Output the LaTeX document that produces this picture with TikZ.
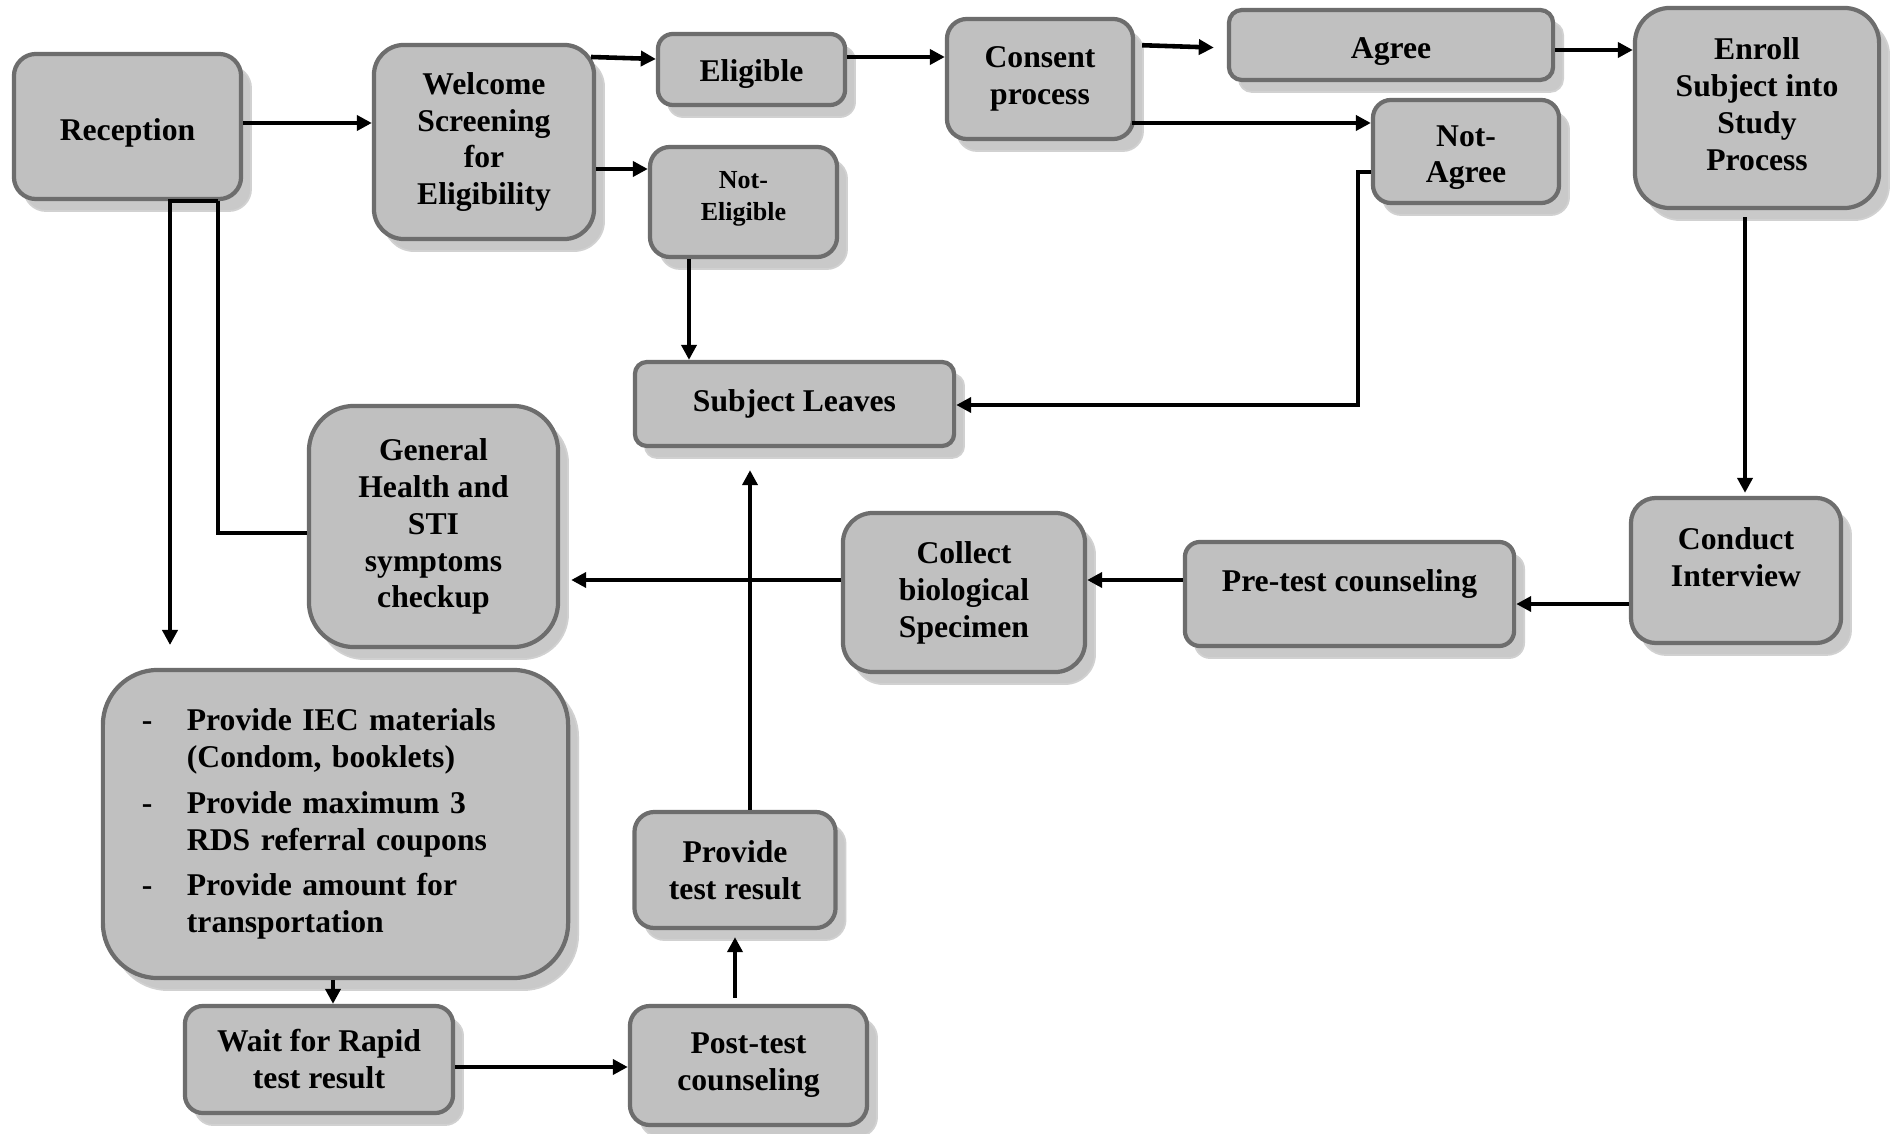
\documentclass[tikz,border=0pt]{standalone}
\usepackage{fontspec}
\setmainfont{Liberation Serif}
\usetikzlibrary{arrows.meta,shadows,calc}
\pgfdeclarelayer{background}
\pgfsetlayers{background,main}
\definecolor{boxfill}{HTML}{C0C0C0}
\definecolor{boxline}{HTML}{6D6D6D}
\definecolor{shadowfill}{HTML}{C9C9C9}
\begin{document}
\begin{tikzpicture}[x=0.01cm,y=-0.01cm,
  box/.style={draw=boxline, fill=boxfill, line width=1.2pt, align=center, inner sep=2pt,
    font=\fontsize{9}{10.5}\selectfont\bfseries,
    drop shadow={shadow xshift=0.1cm, shadow yshift=-0.12cm, fill=shadowfill, draw=black!18, line width=0.5pt, opacity=1}},
  arr/.style={line width=1.3pt, -{Triangle[length=0.15cm,width=0.15cm]}},
  ln/.style={line width=1.3pt}]
\useasboundingbox (0,0) rectangle (1892,1134);
\begin{pgfonlayer}{background}
\fill[white] (0,0) rectangle (1892,1134);
\end{pgfonlayer}

% nodes
\node[box, minimum width=2.27cm, minimum height=1.45cm, rounded corners=0.22cm, text height=8.2pt, text depth=0pt] (rec) at (127.5,126.5) {Reception};
\node[box, minimum width=2.20cm, minimum height=1.94cm, rounded corners=0.30cm] (wel) at (484,142) {Welcome\\Screening\\for\\Eligibility};
\node[box, minimum width=1.87cm, minimum height=0.71cm, rounded corners=0.15cm, text height=6.9pt, text depth=0pt] (eli) at (751.5,69.5) {Eligible};
\node[box, minimum width=1.87cm, minimum height=1.10cm, rounded corners=0.20cm, font=\fontsize{7.4}{9.2}\selectfont\bfseries] (nel) at (743.5,202) {Not-\\Eligible\\[-5.9pt]\mbox{}};
\node[box, minimum width=1.86cm, minimum height=1.20cm, rounded corners=0.20cm] (con) at (1040,79) {Consent\\process};
\node[box, minimum width=3.24cm, minimum height=0.70cm, rounded corners=0.13cm, text height=7.5pt, text depth=0pt] (agr) at (1391,45) {Agree};
\node[box, minimum width=1.86cm, minimum height=1.03cm, rounded corners=0.18cm] (nag) at (1466,151.5) {\mbox{}\\[-1.1pt]Not-\\Agree};
\node[box, minimum width=2.44cm, minimum height=2.00cm, rounded corners=0.35cm] (enr) at (1757,108) {Enroll\\Subject into\\Study\\Process\\[-8.3pt]\mbox{}};
\node[box, minimum width=3.19cm, minimum height=0.84cm, rounded corners=0.12cm] (sub) at (794.5,404) {Subject Leaves};
\node[box, minimum width=2.49cm, minimum height=2.41cm, rounded corners=0.45cm] (gen) at (433.5,526.5) {General\\Health and\\STI\\symptoms\\checkup};
\node[box, minimum width=2.42cm, minimum height=1.59cm, rounded corners=0.30cm] (col) at (964,592.5) {Collect\\biological\\Specimen};
\node[box, minimum width=3.29cm, minimum height=1.04cm, rounded corners=0.15cm] (pre) at (1349.5,594) {Pre-test counseling\\[-2.6pt]\mbox{}};
\node[box, minimum width=2.10cm, minimum height=1.45cm, rounded corners=0.25cm] (cnd) at (1736,570.5) {Conduct\\Interview\\[-2.6pt]\mbox{}};
\node[box, minimum width=4.65cm, minimum height=3.08cm, rounded corners=0.55cm, text width=3.87cm, inner xsep=0.39cm, align=left] (iec) at (335.5,824) {%
\makebox[0.45cm][l]{-}Provide IEC materials\\
\hspace*{0.45cm}(Condom, booklets)\\[2.5pt]
\makebox[0.45cm][l]{-}Provide maximum 3\\
\hspace*{0.45cm}RDS referral coupons\\[2.5pt]
\makebox[0.45cm][l]{-}Provide amount for\\
\hspace*{0.45cm}transportation};
\node[box, minimum width=2.01cm, minimum height=1.16cm, rounded corners=0.20cm] (prv) at (735,870) {Provide\\test result};
\node[box, minimum width=2.68cm, minimum height=1.07cm, rounded corners=0.18cm] (wai) at (319,1059.5) {Wait for Rapid\\test result};
\node[box, minimum width=2.37cm, minimum height=1.19cm, rounded corners=0.20cm] (pst) at (748.5,1065.5) {Post-test\\counseling};

\coordinate (downend) at (170,645);

% connectors
\draw[arr] (rec.east |- 0,123) -- (wel.west |- 0,123);
\draw[arr] ($(wel.east |- 0,57)+(-5,0)$) -- (eli.west |- 0,59);
\draw[arr] (wel.east |- 0,169) -- (nel.west |- 0,169);
\draw[arr] (eli.east |- 0,57) -- (con.west |- 0,57);
\draw[arr, shorten <=0.07cm, shorten >=0.13cm] (con.east |- 0,45) -- (agr.west |- 0,48);
\draw[arr] ($(con.east |- 0,123)+(-3,0)$) -- (nag.west |- 0,123);
\draw[arr] (agr.east |- 0,50) -- (enr.west |- 0,50);
\draw[arr] (nel.south -| 689,0) -- (sub.north -| 689,0);
\draw[arr] (nag.west |- 0,172) -- (1358,172) |- (sub.east |- 0,405);
\draw[arr, shorten <=0.07cm, shorten >=0.03cm] (enr.south -| 1745,0) -- (cnd.north -| 1745,0);
\draw[arr] (cnd.west |- 0,604) -- (pre.east |- 0,604);
\draw[arr] (pre.west |- 0,580) -- (col.east |- 0,580);
\draw[arr, shorten >=0.11cm] (col.west |- 0,580) -- (gen.east |- 0,580);
\draw[arr] (rec.south -| 218,0) -- (rec.south -| 170,0) -- (downend);
\draw[ln] (rec.south -| 218,0) -- (218,533) -- (gen.west |- 0,533);
\draw[arr] (iec.south -| 333,0) -- (wai.north -| 333,0);
\draw[arr] (wai.east |- 0,1067) -- (pst.west |- 0,1067);
\draw[arr, shorten <=0.06cm, shorten >=0.07cm] (pst.north -| 735,0) -- (prv.south -| 735,0);
\draw[arr, shorten >=0.22cm] (prv.north -| 750,0) -- (sub.south -| 750,0);
\end{tikzpicture}
\end{document}
